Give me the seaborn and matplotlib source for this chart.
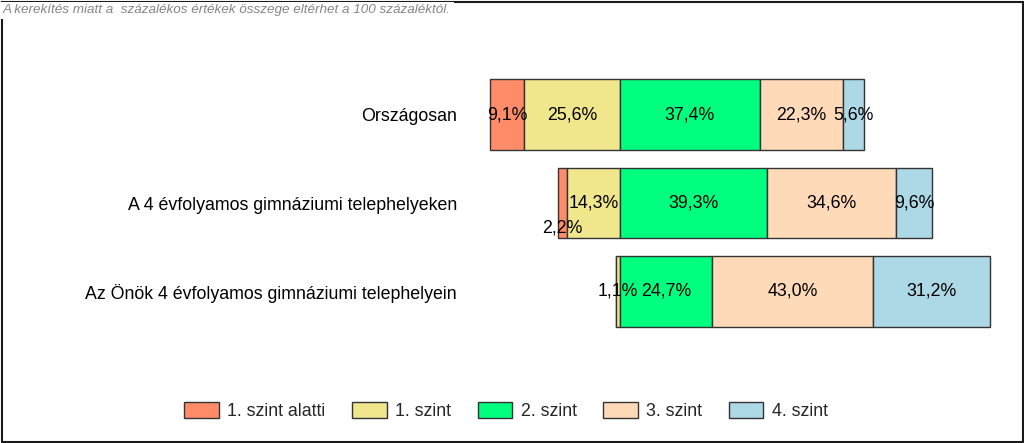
import matplotlib
matplotlib.use("Agg")
import matplotlib.pyplot as plt
from matplotlib.patches import Rectangle, Patch
import seaborn as sns
import pandas as pd

categories = ["Országosan",
              "A 4 évfolyamos gimnáziumi telephelyeken",
              "Az Önök 4 évfolyamos gimnáziumi telephelyein"]
levels = ["1. szint alatti", "1. szint", "2. szint", "3. szint", "4. szint"]
below1 = [9.1, 2.2, 0.0]
level1 = [25.6, 14.3, 1.1]
level2 = [37.4, 39.3, 24.7]
level3 = [22.3, 34.6, 43.0]
level4 = [5.6, 9.6, 31.2]
colors = ["#FF8C69", "#F0E68C", "#00FF7F", "#FFDAB9", "#ADD8E6"]
caption = "A kerekítés miatt a  százalékos értékek összege eltérhet a 100 százaléktól."

sns.set_theme(style="white")
plt.rcParams["font.family"] = ["Liberation Sans", "DejaVu Sans"]

W, H = 1024, 443
fig = plt.figure(figsize=(W / 100, H / 100), dpi=100)
fig.patch.set_facecolor("white")

FS = 12.8

# axes placement (pixels)
ax_left_px, ax_right_px = 470, 1000
zero_px, px_per_pct = 620, 3.74
ax_top_px, ax_bot_px = 70.25, 335.75
ax = fig.add_axes([ax_left_px / W, 1 - ax_bot_px / H,
                   (ax_right_px - ax_left_px) / W, (ax_bot_px - ax_top_px) / H])

series = [below1, level1, level2, level3, level4]
# diverging: levels below 2 to the left of zero, others to the right
starts = []
for i in range(len(categories)):
    left = -(below1[i] + level1[i])
    row = []
    for s in series:
        row.append(left)
        left += s[i]
    starts.append(row)

for j, (s, col) in enumerate(zip(series, colors)):
    df = pd.DataFrame({"cat": categories, "val": s})
    sns.barplot(data=df, x="val", y="cat", orient="h", color=col,
                left=[starts[i][j] for i in range(len(categories))],
                edgecolor="#333333", linewidth=1.0, width=0.8,
                saturation=1, ax=ax, order=categories)

ax.set_xlim((ax_left_px - zero_px) / px_per_pct, (ax_right_px - zero_px) / px_per_pct)
ax.set_ylim(2.5, -0.5)
ax.set_xlabel("")
ax.set_ylabel("")
ax.set_xticks([])
for sp in ax.spines.values():
    sp.set_visible(False)
ax.tick_params(axis="y", length=0, pad=9.5, labelsize=FS, colors="black")
for t in ax.get_yticklabels():
    t.set_color("black")

# value labels
fig.canvas.draw()
renderer = fig.canvas.get_renderer()
for i in range(len(categories)):
    texts = []
    for j, s in enumerate(series):
        v = s[i]
        if v <= 0:
            texts.append(None)
            continue
        cx = starts[i][j] + v / 2
        lab = f"{v:.1f}".replace(".", ",") + "%"
        t = ax.text(cx, i, lab, ha="center", va="center", fontsize=FS, color="black")
        texts.append(t)
    valid = [t for t in texts if t is not None]
    for a, b in zip(valid[:-1], valid[1:]):
        ba = a.get_window_extent(renderer)
        bb = b.get_window_extent(renderer)
        if ba.x1 > bb.x0 + 2:
            x, y = a.get_position()
            a.set_position((x, y + 0.28))

# legend
handles = [Patch(facecolor=c, edgecolor="#333333", linewidth=1.0, label=l)
           for c, l in zip(colors, levels)]
fig.legend(handles=handles, loc="center", bbox_to_anchor=(506 / W, 1 - 411 / H),
           ncol=5, frameon=False, fontsize=FS, handlelength=1.95,
           handleheight=1.05, handletextpad=0.46, columnspacing=1.5)

# frame
fig.patches.append(Rectangle((1.5 / W, 1.5 / H), (W - 3) / W, (H - 3) / H,
                             transform=fig.transFigure, fill=False,
                             edgecolor="#1a1a1a", linewidth=1.5, zorder=5))
fig.text(3 / W, 1 - 10.5 / H, caption, ha="left", va="center", fontsize=9.7,
         style="italic", color="#858585", zorder=10,
         bbox=dict(facecolor="white", edgecolor="none", pad=2))

fig.savefig("out.png", dpi=100, facecolor="white")
